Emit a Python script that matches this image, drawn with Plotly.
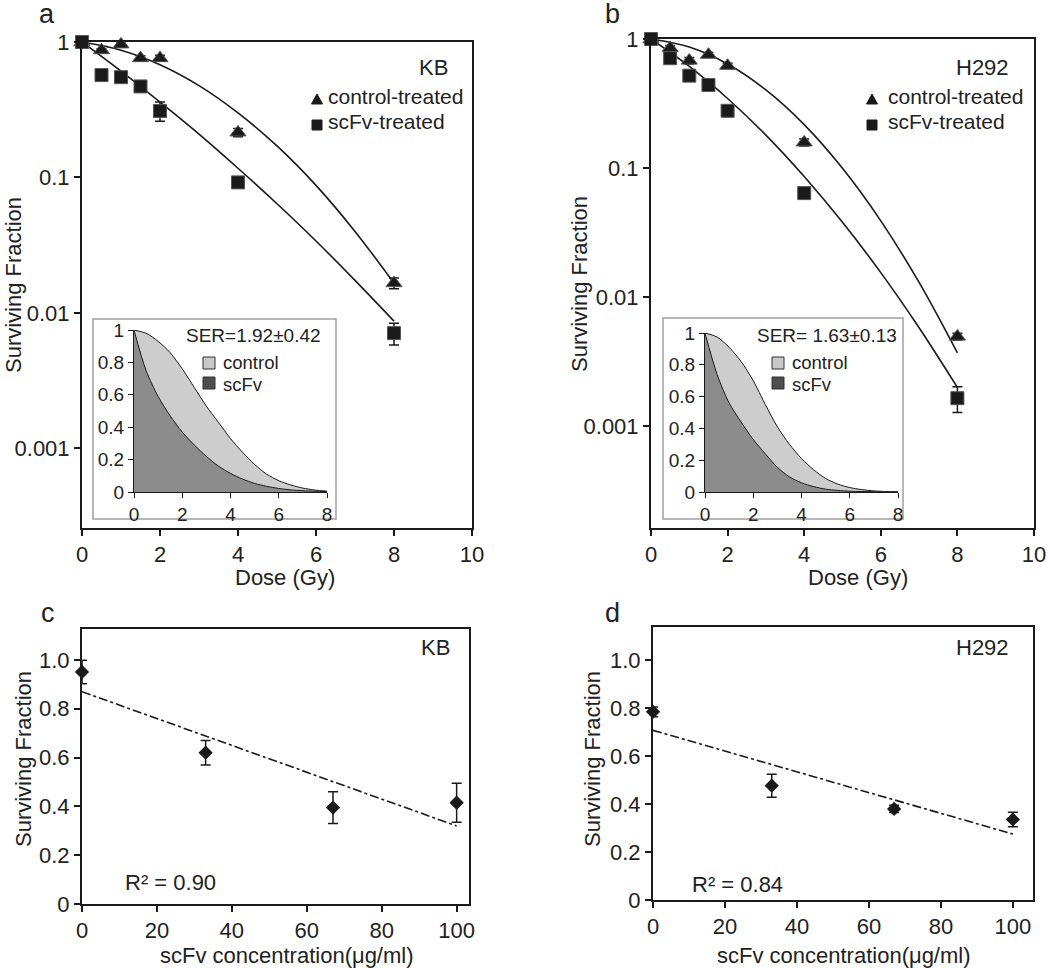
import plotly.graph_objects as go

W, H = 1050, 968
FONT = "Liberation Sans, Arial, sans-serif"
INK = "#1a1a1a"

# ---------------- data ----------------
dose = [0, 0.5, 1, 1.5, 2, 4, 8]
kb_control = [1.0, 0.87, 0.96, 0.76, 0.76, 0.215, 0.0166]
kb_control_err = [0, 0.02, 0.02, 0.03, 0.04, 0.015, 0.0015]
kb_scfv = [1.0, 0.57, 0.55, 0.47, 0.31, 0.092, 0.0071]
kb_scfv_err = [0, 0.04, 0.03, 0.04, 0.05, 0.006, 0.0013]

h292_control = [1.0, 0.85, 0.68, 0.755, 0.62, 0.158, 0.00495]
h292_control_err = [0, 0.04, 0.04, 0.03, 0.03, 0.01, 0.0003]
h292_scfv = [1.0, 0.71, 0.52, 0.44, 0.278, 0.064, 0.00165]
h292_scfv_err = [0, 0.05, 0.04, 0.03, 0.02, 0.006, 0.00037]

fit_dose = [0, 1, 2, 3, 4, 5, 6, 7, 8]
kb_control_fit = [1, 0.87, 0.68, 0.477, 0.30, 0.171, 0.0875, 0.040, 0.0166]
kb_scfv_fit = [1, 0.61, 0.36, 0.209, 0.117, 0.064, 0.034, 0.0174, 0.0087]
h292_control_fit = [1, 0.866, 0.64, 0.403, 0.217, 0.0995, 0.039, 0.013, 0.0037]
h292_scfv_fit = [1, 0.613, 0.346, 0.18, 0.086, 0.038, 0.0155, 0.0058, 0.002]

inset_dose = [0, 0.5, 1, 1.5, 2, 2.5, 3, 3.5, 4, 4.5, 5, 5.5, 6, 6.5, 7, 7.5, 8]
kb_inset_control = [1, 0.98, 0.93, 0.86, 0.76, 0.645, 0.53, 0.43, 0.33, 0.245, 0.17, 0.11, 0.07,
                    0.043, 0.024, 0.012, 0.005]
kb_inset_scfv = [1, 0.75, 0.59, 0.47, 0.37, 0.29, 0.22, 0.16, 0.115, 0.08, 0.053, 0.035, 0.022,
                 0.013, 0.008, 0.005, 0.003]
h292_inset_control = [1, 0.975, 0.91, 0.82, 0.70, 0.55, 0.41, 0.30, 0.21, 0.14, 0.085, 0.05, 0.028,
                      0.015, 0.007, 0.003, 0.001]
h292_inset_scfv = [1, 0.74, 0.56, 0.44, 0.33, 0.24, 0.155, 0.095, 0.058, 0.034, 0.018, 0.01, 0.005,
                   0.003, 0.002, 0.001, 0.0005]

conc = [0, 33, 67, 100]
kb_conc_sf = [0.951, 0.62, 0.395, 0.415]
kb_conc_err = [0.048, 0.05, 0.065, 0.08]
h292_conc_sf = [0.785, 0.477, 0.38, 0.336]
h292_conc_err = [0.02, 0.048, 0.015, 0.03]

trend_x = [0, 100]
kb_trend_y = [0.87, 0.32]
h292_trend_y = [0.708, 0.275]

log_ticks = [1, 0.1, 0.01, 0.001]
log_ticktext = ["1", "0.1", "0.01", "0.001"]
dose_ticks = [0, 2, 4, 6, 8, 10]
inset_xticks = [0, 2, 4, 6, 8]
inset_yticks = [0, 0.2, 0.4, 0.6, 0.8, 1]
inset_yticktext = ["0", "0.2", "0.4", "0.6", "0.8", "1"]
conc_ticks = [0, 20, 40, 60, 80, 100]
sf_ticks = [0, 0.2, 0.4, 0.6, 0.8, 1.0]
sf_ticktext = ["0", "0.2", "0.4", "0.6", "0.8", "1.0"]


def fx(x):
    return x / W


def fy(y):
    return 1 - y / H


fig = go.Figure()

# ---------------- panels a & b (log survival curves) ----------------
def survival(xa, ya, ctrl, ctrl_err, scfv, scfv_err, cfit, sfit):
    for fit in (cfit, sfit):
        fig.add_trace(go.Scatter(x=fit_dose, y=fit, mode="lines",
                                 line=dict(color=INK, width=1.6, shape="spline"),
                                 xaxis=xa, yaxis=ya, showlegend=False, hoverinfo="skip"))
    fig.add_trace(go.Scatter(x=dose, y=ctrl, mode="markers", xaxis=xa, yaxis=ya, showlegend=False,
                             cliponaxis=False,
                             marker=dict(symbol="triangle-up", size=14, color=INK, line=dict(color="#555", width=1)),
                             error_y=dict(type="data", array=ctrl_err, color=INK, thickness=1.5, width=5)))
    fig.add_trace(go.Scatter(x=dose, y=scfv, mode="markers", xaxis=xa, yaxis=ya, showlegend=False,
                             cliponaxis=False,
                             marker=dict(symbol="square", size=13, color=INK, line=dict(color="#555", width=1)),
                             error_y=dict(type="data", array=scfv_err, color=INK, thickness=1.5, width=5)))


survival("x", "y", kb_control, kb_control_err, kb_scfv, kb_scfv_err, kb_control_fit, kb_scfv_fit)
survival("x2", "y2", h292_control, h292_control_err, h292_scfv, h292_scfv_err, h292_control_fit, h292_scfv_fit)

# ---------------- panels c & d ----------------
def conc_panel(xa, ya, sf, err, trend):
    fig.add_trace(go.Scatter(x=trend_x, y=trend, mode="lines", xaxis=xa, yaxis=ya, showlegend=False,
                             line=dict(color=INK, width=1.6, dash="dashdot"), hoverinfo="skip"))
    fig.add_trace(go.Scatter(x=conc, y=sf, mode="markers", xaxis=xa, yaxis=ya, showlegend=False,
                             cliponaxis=False,
                             marker=dict(symbol="diamond", size=11, color=INK),
                             error_y=dict(type="data", array=err, color=INK, thickness=1.5, width=5)))


conc_panel("x3", "y3", kb_conc_sf, kb_conc_err, kb_trend_y)
conc_panel("x4", "y4", h292_conc_sf, h292_conc_err, h292_trend_y)

# ---------------- insets ----------------
def inset(xa, ya, ctrl, scfv):
    fig.add_trace(go.Scatter(x=inset_dose, y=ctrl, mode="lines", fill="tozeroy", fillcolor="#cdcdcd",
                             line=dict(color=INK, width=1, shape="spline", smoothing=0.8), xaxis=xa, yaxis=ya,
                             showlegend=False, hoverinfo="skip"))
    fig.add_trace(go.Scatter(x=inset_dose, y=scfv, mode="lines", fill="tozeroy", fillcolor="#8c8c8c",
                             line=dict(color=INK, width=1, shape="spline", smoothing=0.8), xaxis=xa, yaxis=ya,
                             showlegend=False, hoverinfo="skip"))


inset("x5", "y5", kb_inset_control, kb_inset_scfv)
inset("x6", "y6", h292_inset_control, h292_inset_scfv)

# ---------------- axes ----------------
tickfont = dict(family=FONT, size=22, color="#222")
box = dict(showline=True, linecolor=INK, linewidth=2, mirror=True, ticks="outside", ticklen=6,
           tickwidth=1.5, tickcolor=INK, showgrid=False, zeroline=False, tickfont=tickfont,
           automargin=False)


def dom_x(a, b):
    return [fx(a), fx(b)]


def dom_y(top, bottom):
    return [fy(bottom), fy(top)]


layout = dict(
    xaxis=dict(box, domain=dom_x(82, 472), range=[0, 10], tickvals=dose_ticks, anchor="y"),
    yaxis=dict(box, domain=dom_y(42, 528), type="log", range=[-3.587, 0], tickvals=log_ticks,
               ticktext=log_ticktext, anchor="x"),
    xaxis2=dict(box, domain=dom_x(651, 1034), range=[0, 10], tickvals=dose_ticks, anchor="y2"),
    yaxis2=dict(box, domain=dom_y(39, 528), type="log", range=[-3.788, 0], tickvals=log_ticks,
                ticktext=log_ticktext, anchor="x2"),
    xaxis3=dict(box, domain=dom_x(82, 469), range=[0, 103.3], tickvals=conc_ticks, anchor="y3"),
    yaxis3=dict(box, domain=dom_y(629, 904), range=[0, 1.127], tickvals=sf_ticks, ticktext=sf_ticktext,
                anchor="x3"),
    xaxis4=dict(box, domain=dom_x(653, 1033), range=[0, 105.6], tickvals=conc_ticks, anchor="y4"),
    yaxis4=dict(box, domain=dom_y(627, 900), range=[0, 1.139], tickvals=sf_ticks, ticktext=sf_ticktext,
                anchor="x4"),
)
inset_ax = dict(showline=True, linecolor=INK, linewidth=1.2, mirror=False, ticks="outside", ticklen=5,
                tickwidth=1, tickcolor=INK, showgrid=False, zeroline=False, automargin=False,
                tickfont=dict(family=FONT, size=19, color="#222"))
layout.update(
    xaxis5=dict(inset_ax, domain=dom_x(134, 327), range=[0, 8], tickvals=inset_xticks, anchor="y5"),
    yaxis5=dict(inset_ax, domain=dom_y(330, 492), range=[0, 1], tickvals=inset_yticks,
                ticktext=inset_yticktext, anchor="x5"),
    xaxis6=dict(inset_ax, domain=dom_x(705, 898), range=[0, 8], tickvals=inset_xticks, anchor="y6"),
    yaxis6=dict(inset_ax, domain=dom_y(333, 492), range=[0, 1], tickvals=inset_yticks,
                ticktext=inset_yticktext, anchor="x6"),
)

# ---------------- annotations ----------------
ann = []


def text(t, x, y, size=22, xanchor="center", angle=0):
    ann.append(dict(text=t, x=fx(x), y=fy(y), xref="paper", yref="paper", showarrow=False,
                    xanchor=xanchor, yanchor="middle", textangle=angle,
                    font=dict(family=FONT, size=size, color="#222")))


text("a", 47, 14, 27)
text("b", 612, 14, 27)
text("c", 48, 613, 27)
text("d", 612, 613, 27)

text("Surviving Fraction", 13, 285, angle=-90)
text("Surviving Fraction", 579, 284, angle=-90)
text("Surviving Fraction", 23, 759, angle=-90)
text("Surviving Fraction", 592, 759, angle=-90)

text("Dose (Gy)", 285, 577)
text("Dose (Gy)", 858, 577)
text("scFv concentration(μg/ml)", 287, 955)
text("scFv concentration(μg/ml)", 844, 955)

text("KB", 433, 68)
text("H292", 982, 68)
text("KB", 435, 647)
text("H292", 982, 647)
text("R² = 0.90", 170, 882)
text("R² = 0.84", 737, 884)

text("control-treated", 326, 97, 21, xanchor="left")
text("scFv-treated", 326, 121, 21, xanchor="left")
text("control-treated", 886, 97, 21, xanchor="left")
text("scFv-treated", 886, 121, 21, xanchor="left")

text("SER=1.92±0.42", 253, 336, 19)
text("SER= 1.63±0.13", 827, 336, 19)
text("control", 221, 362, 18.5, xanchor="left")
text("scFv", 221, 384, 18.5, xanchor="left")
text("control", 790, 362, 18.5, xanchor="left")
text("scFv", 790, 384, 18.5, xanchor="left")

# ---------------- shapes (inset frames & legend keys) ----------------
shapes = []


def rect(x0, y0, x1, y1, fill, line, lw=1, layer="above"):
    shapes.append(dict(type="rect", xref="paper", yref="paper", x0=fx(x0), x1=fx(x1), y0=fy(y1), y1=fy(y0),
                       fillcolor=fill, line=dict(color=line, width=lw), layer=layer))


def tri(cx, cy, w=11, h=10):
    path = f"M {fx(cx - w/2)} {fy(cy + h/2)} L {fx(cx + w/2)} {fy(cy + h/2)} L {fx(cx)} {fy(cy - h/2)} Z"
    shapes.append(dict(type="path", xref="paper", yref="paper", path=path, fillcolor=INK,
                       line=dict(color=INK, width=1)))


rect(93, 319, 336, 519, "rgba(0,0,0,0)", "#a0a0a0", 1.5, "below")
rect(663, 318, 903, 519, "rgba(0,0,0,0)", "#a0a0a0", 1.5, "below")

tri(317, 99)
rect(312, 120, 322, 130, INK, INK)
tri(872, 99)
rect(867, 120, 877, 130, INK, INK)

for lx in (209, 778):
    rect(lx - 6, 357, lx + 6, 369, "#c8c8c8", "#333")
    rect(lx - 6, 377, lx + 6, 389, "#4d4d4d", "#333")

fig.update_layout(
    width=W, height=H, margin=dict(l=0, r=0, t=0, b=0, pad=0),
    paper_bgcolor="white", plot_bgcolor="white",
    font=dict(family=FONT, size=22, color="#222"),
    showlegend=False, annotations=ann, shapes=shapes, **layout)

fig.write_html("out.html", config={"displayModeBar": False},
               post_script="document.body.style.margin='0';document.body.style.padding='0';"
                           "document.body.style.overflow='hidden';")
